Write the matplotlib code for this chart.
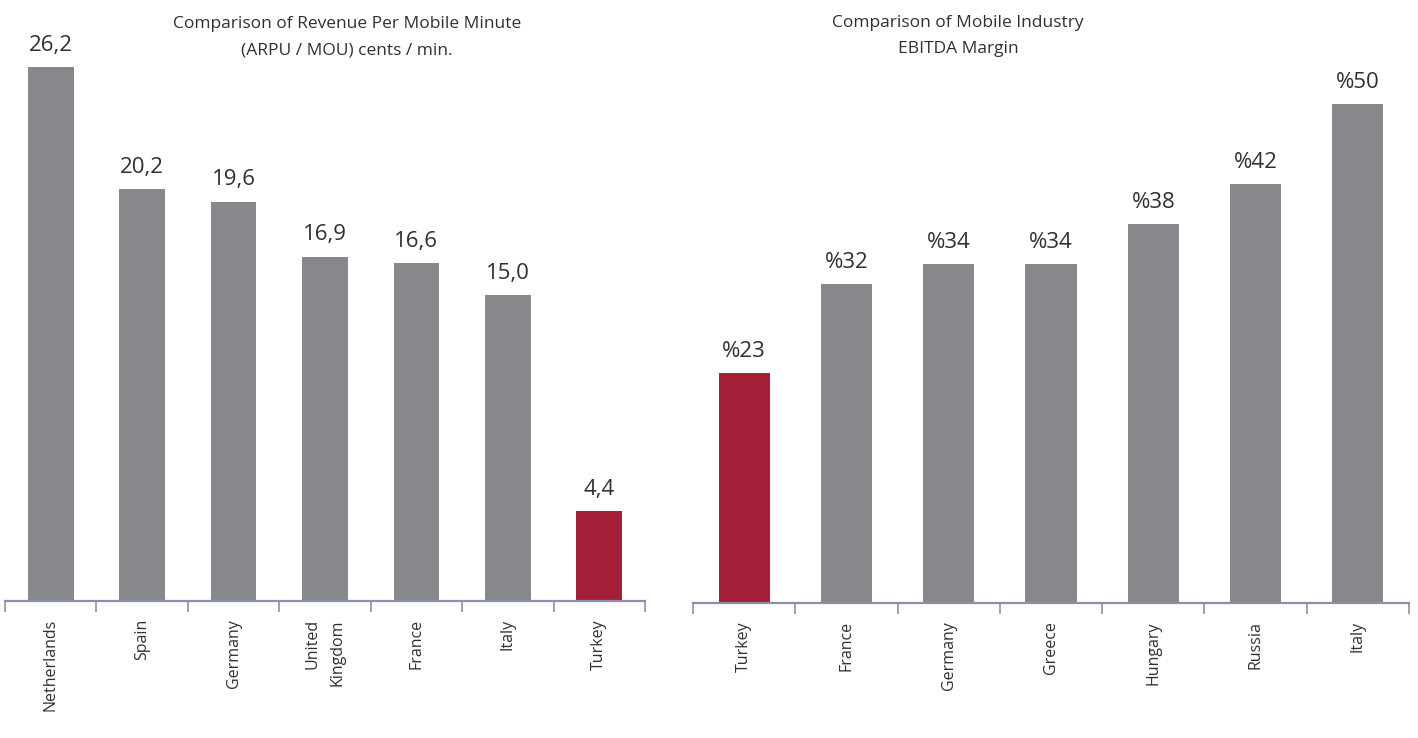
import matplotlib
matplotlib.use('Agg')
import matplotlib.pyplot as plt
import numpy as np

plt.rcParams['font.family'] = ['Open Sans', 'DejaVu Sans']

# left chart: revenue per mobile minute
rpm_countries = ['Netherlands', 'Spain', 'Germany', 'United\nKingdom', 'France', 'Italy', 'Turkey']
rpm_values = [26.2, 20.2, 19.6, 16.9, 16.6, 15.0, 4.4]

# right chart: EBITDA margin
ebitda_countries = ['Turkey', 'France', 'Germany', 'Greece', 'Hungary', 'Russia', 'Italy']
ebitda_values = [23, 32, 34, 34, 38, 42, 50]

GRAY = '#87888b'
RED = '#a51e37'
AXIS = '#8a90aa'
TEXT = '#303030'


def bar_panel(ax, names, values, labels, ymax, highlight):
    x = np.arange(len(names))
    colors = [RED if n == highlight else GRAY for n in names]
    ax.bar(x, values, width=0.5, color=colors)
    for xi, v, lab in zip(x, values, labels):
        ax.annotate(lab, (xi, v), xytext=(0, 8), textcoords='offset points',
                    ha='center', va='bottom', fontsize=16, color=TEXT)
    ax.set_xlim(-0.5, len(names) - 0.5)
    ax.set_ylim(0, ymax)
    for s in ['top', 'left', 'right']:
        ax.spines[s].set_visible(False)
    ax.spines['bottom'].set_color(AXIS)
    ax.spines['bottom'].set_linewidth(1.6)
    ax.set_yticks([])
    ax.set_xticks(x)
    ax.set_xticklabels(names, rotation=90, va='top', ha='center',
                       multialignment='right', fontsize=11.5, color=TEXT,
                       linespacing=1.75)
    ax.tick_params(axis='x', which='major', length=0, pad=13)
    ax.set_xticks(np.arange(-0.5, len(names)), minor=True)
    ax.tick_params(axis='x', which='minor', length=8, width=1.2, color=AXIS, direction='out')


fig = plt.figure(figsize=(14.18, 7.38), dpi=100)

ax1 = fig.add_axes([5 / 1418, 1 - 601 / 738, 640 / 1418, 601 / 738])
bar_panel(ax1, rpm_countries, rpm_values,
          [f'{v:.1f}'.replace('.', ',') for v in rpm_values],
          601 / 20.38, 'Turkey')

ax2 = fig.add_axes([693 / 1418, 1 - 603 / 738, 716 / 1418, 603 / 738])
bar_panel(ax2, ebitda_countries, ebitda_values,
          [f'%{v}' for v in ebitda_values],
          603 / 9.98, 'Turkey')

fig.text(347 / 1418, 1 - 37 / 738,
         'Comparison of Revenue Per Mobile Minute\n(ARPU / MOU) cents / min.',
         ha='center', va='center', fontsize=12.5, color=TEXT, linespacing=1.85)
fig.text(958 / 1418, 1 - 36 / 738,
         'Comparison of Mobile Industry\nEBITDA Margin',
         ha='center', va='center', fontsize=12.5, color=TEXT, linespacing=1.85)

fig.savefig('out.png', dpi=100)
